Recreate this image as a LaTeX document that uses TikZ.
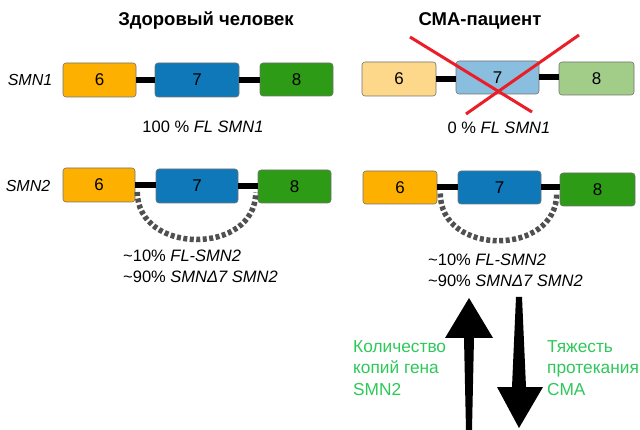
\documentclass[tikz,border=0pt]{standalone}
\usepackage{fontspec}
\setmainfont{Liberation Sans}
\definecolor{orng}{RGB}{253,176,0}
\definecolor{blu}{RGB}{14,120,185}
\definecolor{grn}{RGB}{46,155,22}
\definecolor{lorng}{RGB}{253,216,138}
\definecolor{lblu}{RGB}{138,190,222}
\definecolor{lgrn}{RGB}{161,205,136}
\definecolor{gtext}{RGB}{46,200,90}
\definecolor{xred}{RGB}{235,30,40}
\definecolor{arcgray}{RGB}{80,80,80}
\begin{document}
\begin{tikzpicture}[x=1pt,y=-1pt,
  exon/.style={draw=black!55, line width=0.6pt, rounded corners=3pt, inner sep=0pt,
    font=\fontsize{17}{17}\selectfont},
  link/.style={line width=6pt, black},
  skip/.style={draw=arcgray, line width=5.5pt, dash pattern=on 4pt off 2.5pt},
  lbl/.style={font=\fontsize{16.5}{21}\selectfont, inner sep=0pt},
  ttl/.style={font=\fontsize{18.5}{18.5}\selectfont\bfseries, inner sep=0pt},
  gtxt/.style={font=\fontsize{17.3}{21.5}\selectfont, text=gtext, align=left, inner sep=0pt, anchor=north west},
  cross/.style={draw=xred, line width=3pt}
]
\useasboundingbox (0,0) rectangle (640,430);

% titles
\node[ttl] (t1) at (206,21) {Здоровый человек};
\node[ttl] (t2) at (480,21) {СМА-пациент};

% row labels
\node[lbl, font=\fontsize{16}{16}\selectfont\itshape] (r1) at (30,80) {SMN1};
\node[lbl, font=\fontsize{16}{16}\selectfont\itshape] (r2) at (28,186) {SMN2};

% SMN1 healthy
\node[exon, fill=orng, minimum width=73pt, minimum height=34pt] (a6) at (99.5,80) {6};
\node[exon, fill=blu, minimum width=84pt, minimum height=34pt] (a7) at (197,80) {7};
\node[exon, fill=grn, minimum width=73pt, minimum height=33pt] (a8) at (296.5,79.5) {8};
\draw[link] (a6.east) -- (a6.east -| a7.west);
\draw[link] (a7.east) -- (a7.east -| a8.west);

% SMN1 patient
\node[exon, fill=lorng, minimum width=74pt, minimum height=34pt] (b6) at (399,79) {6};
\node[exon, fill=lblu, minimum width=83pt, minimum height=33pt] (b7) at (497.5,77.5) {7};
\node[exon, fill=lgrn, minimum width=75pt, minimum height=33pt] (b8) at (596.5,78.5) {8};
\draw[link] (b6.east) -- (b6.east -| b7.west);
\draw[link] (b7.east) -- (b7.east -| b8.west);
\coordinate (x1) at (410,37);
\coordinate (x2) at (532,112);
\coordinate (x3) at (579,35);
\coordinate (x4) at (466,114);
\draw[cross] (x1) -- (x2);
\draw[cross] (x3) -- (x4);

% percentage texts row 1
\node[lbl] (p1) at (203,127) {100 \% \textit{FL SMN1}};
\node[lbl] (p2) at (499,128) {0 \% \textit{FL SMN1}};

% SMN2 healthy
\node[exon, fill=orng, minimum width=72pt, minimum height=34pt] (c6) at (99,185) {6};
\node[exon, fill=blu, minimum width=82pt, minimum height=34pt] (c7) at (197,186) {7};
\node[exon, fill=grn, minimum width=73pt, minimum height=33pt] (c8) at (294.5,186.5) {8};
\draw[link] (c6.east) -- (c6.east -| c7.west);
\draw[link] (c7.east) -- (c7.east -| c8.west);
\draw[skip] ([xshift=2pt,yshift=-7pt]c6.east) .. controls +(0,63) and +(0,63) .. ([xshift=-2pt,yshift=-6pt]c8.west);

% SMN2 patient
\node[exon, fill=orng, minimum width=74pt, minimum height=33pt] (d6) at (400,187.5) {6};
\node[exon, fill=blu, minimum width=83pt, minimum height=33pt] (d7) at (499.5,187.5) {7};
\node[exon, fill=grn, minimum width=75pt, minimum height=33pt] (d8) at (597.5,189.5) {8};
\draw[link] (d6.east) -- (d6.east -| d7.west);
\draw[link] (d7.east) -- (d7.east -| d8.west);
\draw[skip] ([xshift=3pt,yshift=-6pt]d6.east) .. controls +(0,63) and +(0,63) .. ([xshift=-3pt,yshift=-4pt]d8.west);

% SMN2 texts
\node[lbl, anchor=west, align=left] (q1) at (123,266) {\textasciitilde10\% \textit{FL-SMN2}\\\textasciitilde90\% \textit{SMNΔ7 SMN2}};
\node[lbl, anchor=west, align=left] (q2) at (428,270) {\textasciitilde10\% \textit{FL-SMN2}\\\textasciitilde90\% \textit{SMNΔ7 SMN2}};

% arrows
\fill[black] (469,298) -- (493,338) -- (474,338) -- (472,430) -- (466,430) -- (464,338) -- (445,338) -- cycle;
\fill[black] (516,297) -- (522,297) -- (526,387) -- (543,387) -- (519,428) -- (497,387) -- (512,387) -- cycle;

% green texts
\node[gtxt] (g1) at (353,340) {Количество\\копий гена\\SMN2};
\node[gtxt] (g2) at (547,340) {Тяжесть\\протекания\\СМА};
\end{tikzpicture}
\end{document}
